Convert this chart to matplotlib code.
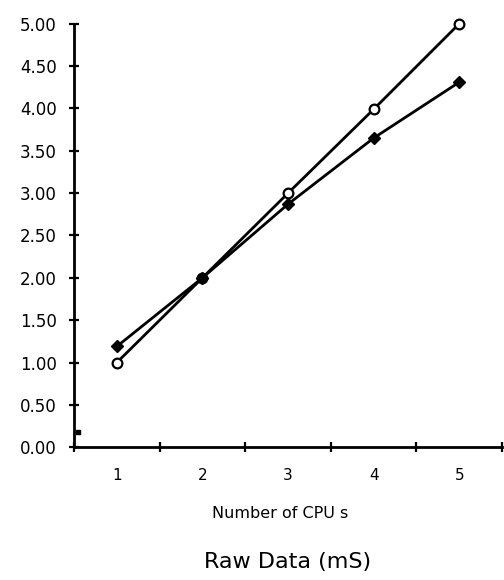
import matplotlib.pyplot as plt

plt.rcParams['font.family'] = ['DejaVu Sans']

cpus = [1, 2, 3, 4, 5]
measured = [1.19, 2.00, 2.87, 3.65, 4.31]
ideal = [1.00, 2.00, 3.00, 3.99, 5.00]
stray_x = [0.54]
stray_y = [0.18]

y_ticks = [0.0, 0.5, 1.0, 1.5, 2.0, 2.5, 3.0, 3.5, 4.0, 4.5, 5.0]

fig = plt.figure(figsize=(5.04, 5.80), dpi=100)
ax = fig.add_axes([0.147, 0.229, 0.849, 0.730])

ax.plot(cpus, ideal, color='black', lw=2.0, marker='o', ms=7,
        mfc='white', mec='black', mew=1.6, zorder=3, clip_on=False)
ax.plot(cpus, measured, color='black', lw=2.0, marker='D', ms=6,
        mfc='black', mec='black', zorder=3, clip_on=False)
ax.plot(stray_x, stray_y, 's', color='black', ms=2.5, clip_on=False)

ax.set_xlim(0.5, 5.5)
ax.set_ylim(0, 5)
ax.set_yticks(y_ticks)
ax.set_yticklabels([f'{v:.2f}' for v in y_ticks])

# category boundaries carry the ticks, labels sit between them
ax.set_xticks([0.5, 1.5, 2.5, 3.5, 4.5, 5.5])
ax.set_xticklabels([])
ax.set_xticks(cpus, minor=True)
ax.set_xticklabels([str(c) for c in cpus], minor=True)
ax.tick_params(axis='x', which='minor', length=0, pad=15, labelsize=11)
ax.tick_params(axis='x', which='major', direction='inout', length=7, width=1.6)
ax.tick_params(axis='y', direction='inout', length=7, width=1.6, pad=9,
               labelsize=12)

for s in ['top', 'right']:
    ax.spines[s].set_visible(False)
for s in ['left', 'bottom']:
    ax.spines[s].set_linewidth(2.0)

fig.text(0.556, 1 - 514 / 580, 'Number of CPU s', ha='center', va='center',
         fontsize=11.5)
fig.text(0.571, 1 - 562 / 580, 'Raw Data (mS)', ha='center', va='center',
         fontsize=16)

fig.savefig('out.png', dpi=100)
